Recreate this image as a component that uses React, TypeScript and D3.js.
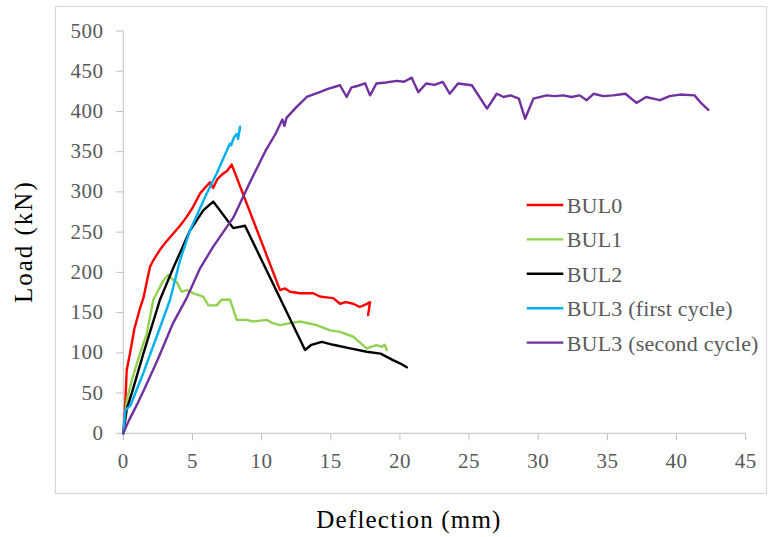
import React from "react";
import * as d3 from "d3";

const xTicks = [0, 5, 10, 15, 20, 25, 30, 35, 40, 45];
const yTicks = [0, 50, 100, 150, 200, 250, 300, 350, 400, 450, 500];

const bul0D = [0, 0.12, 0.25, 0.48, 0.8, 1.2, 1.45, 1.93, 2.17, 2.65, 3.1, 3.6, 4.1, 4.58, 5.0, 5.55, 5.9, 6.27, 6.5, 6.8, 7.23, 7.5, 7.84, 11.33, 11.7, 12.05, 12.78, 13.74, 14.2, 14.7, 15.18, 15.67, 16.1, 16.63, 17.1, 17.5, 17.84, 17.7];
const bul0L = [0, 29, 79, 99, 130, 155, 168, 207, 215, 228, 238, 248, 258, 269, 280, 298, 305, 312, 305, 316, 323, 326, 334, 178, 180, 176, 174, 174, 170, 169, 168, 161, 163, 161, 157, 160, 163, 147];

const bul1D = [0, 0.25, 0.6, 1.2, 1.7, 2.17, 2.9, 3.25, 3.5, 3.86, 4.22, 4.6, 5.06, 5.78, 6.15, 6.75, 7.1, 7.72, 8.2, 8.9, 9.4, 10.37, 10.8, 11.33, 12.05, 12.78, 13.98, 14.95, 15.67, 16.63, 17.6, 18.3, 18.7, 18.9, 19.05];
const bul1L = [0, 41, 65, 99, 124, 166, 190, 197, 192, 188, 176, 178, 174, 170, 159, 159, 166, 166, 141, 141, 139, 141, 137, 134.5, 137, 139, 134.5, 128, 126, 120, 105.6, 109.7, 107.5, 110, 103.5];

const bul2D = [0, 0.25, 0.7, 1.45, 2.65, 3.6, 4.82, 5.78, 6.5, 7.95, 8.8, 13.14, 13.6, 14.35, 15.18, 16.4, 17.6, 18.6, 19.5, 20.0, 20.5];
const bul2L = [0, 30, 55, 99, 166, 205, 252, 277, 288, 255, 258, 103.5, 110, 113.7, 110, 105.6, 101.4, 99, 91, 87, 82];

const bul3aD = [0, 0.15, 0.5, 1.45, 2.41, 3.38, 4.1, 4.82, 6.03, 6.75, 7.7, 7.8, 8.0, 8.2, 8.3, 8.44, 8.4];
const bul3aL = [0, 29, 34, 75, 120, 166, 215, 252, 298, 323, 360, 358, 368, 372, 366, 381, 375];

const bul3bD = [0, 0.2, 0.48, 1.0, 1.5, 2.0, 2.5, 3.38, 3.6, 4.58, 5.55, 6.5, 7.95, 9.16, 10.25, 11.0, 11.5, 11.65, 11.8, 12.5, 13.26, 14.2, 14.8, 15.67, 16.15, 16.5, 17.0, 17.48, 17.84, 18.3, 19.0, 19.77, 20.3, 20.85, 21.33, 21.9, 22.5, 23.1, 23.6, 24.2, 25.2, 26.3, 27.0, 27.5, 28.0, 28.6, 29.05, 29.65, 30.6, 31.2, 31.8, 32.4, 33.0, 33.5, 34.0, 34.7, 35.4, 36.3, 37.1, 37.8, 38.3, 38.8, 39.5, 40.25, 41.3, 41.8, 42.3];
const bul3bL = [0, 8, 18.6, 36, 54, 73, 92, 128, 137, 168, 205, 232, 268, 312, 350, 372, 390, 382, 392, 405, 418, 424, 428, 432.6, 418, 430, 432, 435, 420, 434.7, 436, 438, 437, 442, 424, 434.7, 433, 436.7, 422, 434.7, 432.6, 403.6, 422, 418, 420, 416, 391, 416, 420, 419, 420, 418, 420, 414, 422, 419, 420, 422, 410.6, 418, 416, 414, 419, 421, 420, 410, 402];

const seriesNames = ["BUL0", "BUL1", "BUL2", "BUL3 (first cycle)", "BUL3 (second cycle)"];
const seriesColors = ["#ff0000", "#92d050", "#000000", "#00b0f0", "#7030a0"];
const seriesD = [bul0D, bul1D, bul2D, bul3aD, bul3bD];
const seriesL = [bul0L, bul1L, bul2L, bul3aL, bul3bL];

const serif = { fontFamily: '"Liberation Serif"' };

export default function App() {
  const x = d3.scaleLinear().domain([0, 45]).range([123.3, 745.7]);
  const y = d3.scaleLinear().domain([0, 500]).range([433.3, 31]);
  const line = d3
    .line<[number, number]>()
    .x((d) => x(d[0]))
    .y((d) => y(d[1]));
  const axisColor = "#bfbfbf";
  const labelColor = "#595959";

  return (
    <svg width={768} height={537} style={{ position: "absolute", left: 0, top: 0 }}>
      <rect x={0} y={0} width={768} height={537} fill="#fff" />
      <rect x={55.5} y={6.5} width={711} height={487} fill="none" stroke="#d9d9d9" strokeWidth={1.2} />

      <line x1={x(0)} x2={x(0)} y1={y(500)} y2={y(0)} stroke={axisColor} strokeWidth={1} />
      <line x1={x(0)} x2={x(45)} y1={y(0)} y2={y(0)} stroke={axisColor} strokeWidth={1} />
      {yTicks.map((t) => (
        <g key={"y" + t}>
          <line x1={x(0) - 7} x2={x(0)} y1={y(t)} y2={y(t)} stroke={axisColor} strokeWidth={1} />
          <text x={103.5} y={y(t) + 6.5} textAnchor="end" fontSize={21} fill={labelColor} style={{ ...serif, letterSpacing: "0.5px" }}>
            {t}
          </text>
        </g>
      ))}
      {xTicks.map((t) => (
        <g key={"x" + t}>
          <line x1={x(t)} x2={x(t)} y1={y(0)} y2={y(0) + 7} stroke={axisColor} strokeWidth={1} />
          <text x={x(t)} y={468} textAnchor="middle" fontSize={21} fill={labelColor} style={{ ...serif, letterSpacing: "0.5px" }}>
            {t}
          </text>
        </g>
      ))}

      {seriesD.map((ds, i) => {
        const pts: [number, number][] = ds.map((d, j) => [d, seriesL[i][j]]);
        return (
          <path
            key={"s" + i}
            d={line(pts) || ""}
            fill="none"
            stroke={seriesColors[i]}
            strokeWidth={2.4}
            strokeLinejoin="round"
            strokeLinecap="round"
          />
        );
      })}

      {seriesNames.map((n, i) => {
        const ly = 205 + i * 34.4;
        return (
          <g key={"l" + i}>
            <line x1={526.7} x2={563.3} y1={ly} y2={ly} stroke={seriesColors[i]} strokeWidth={2.4} />
            <text x={566.7} y={ly + 8} fontSize={22} fill={labelColor} style={{ ...serif, letterSpacing: "0.2px" }}>
              {n}
            </text>
          </g>
        );
      })}

      <text x={409} y={528} textAnchor="middle" fontSize={25} fill="#000" style={{ ...serif, letterSpacing: "1.2px" }}>
        Deflection (mm)
      </text>
      <text
        transform="translate(32,241.7) rotate(-90)"
        textAnchor="middle"
        fontSize={25}
        fill="#000"
        style={{ ...serif, letterSpacing: "2px" }}
      >
        Load (kN)
      </text>
    </svg>
  );
}
